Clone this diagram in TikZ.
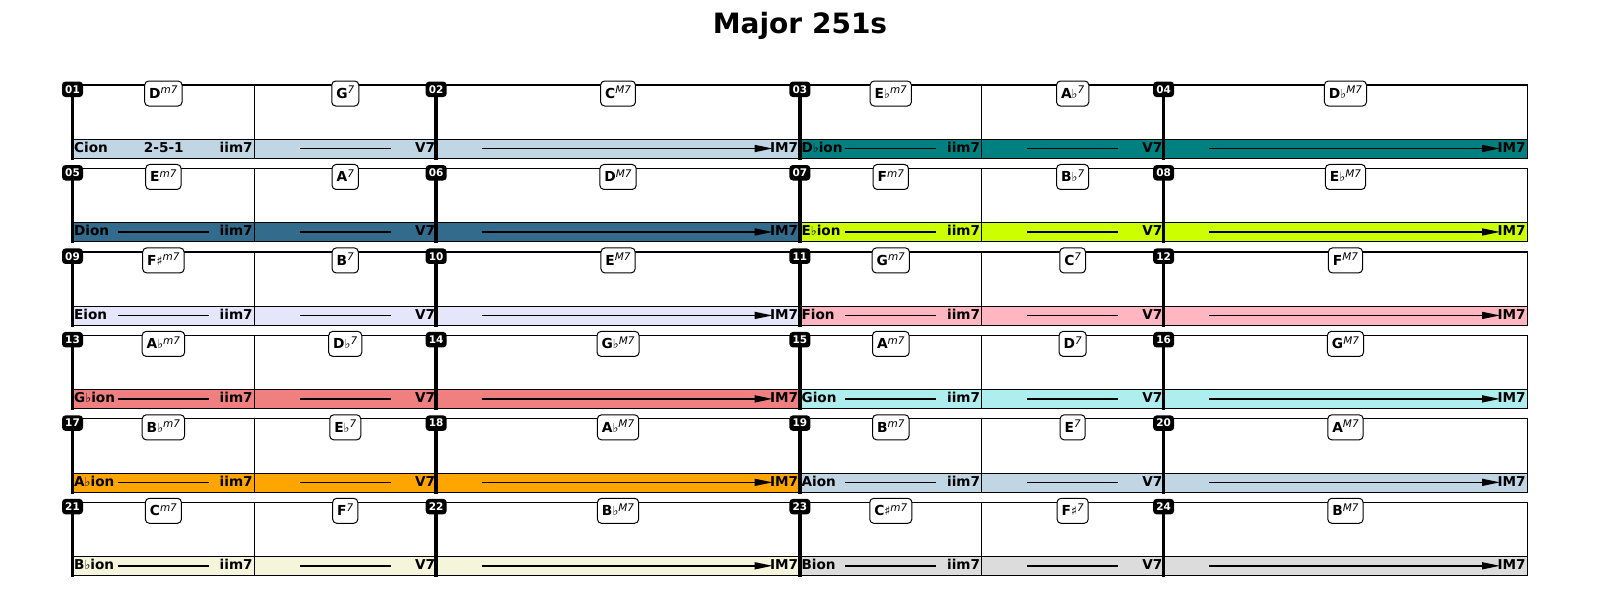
\documentclass[tikz,border=0pt]{standalone}
\usepackage{fontspec}
\setmainfont{DejaVu Sans}
\usetikzlibrary{arrows.meta}
\definecolor{cC}{HTML}{C0D6E4}
\definecolor{cDb}{HTML}{008080}
\definecolor{cD}{HTML}{336B8C}
\definecolor{cEb}{HTML}{CCFF00}
\definecolor{cE}{HTML}{E6E6FA}
\definecolor{cF}{HTML}{FFB6C1}
\definecolor{cGb}{HTML}{F08080}
\definecolor{cG}{HTML}{AFEEEE}
\definecolor{cAb}{HTML}{FFA500}
\definecolor{cA}{HTML}{C0D6E4}
\definecolor{cBb}{HTML}{F5F5DC}
\definecolor{cB}{HTML}{DCDCDC}
\newcommand\fl{{\fontsize{12.5}{12.5}\selectfont\mdseries ♭}}
\newcommand\shp{{\fontsize{12.5}{12.5}\selectfont\mdseries ♯}}
\newcommand\ch[2]{#1{\fontsize{10.5}{10.5}\selectfont\mdseries\itshape\raisebox{4.5pt}{#2}}}
\newif\ifintro
\tikzset{
  frameline/.style={line width=1.2pt},
  mbar/.style={line width=3.5pt},
  bandline/.style={line width=1.5pt},
  badgebox/.style={fill=black, rounded corners=3.5pt, inner sep=0pt, minimum width=21pt, minimum height=15.5pt, text=white, font=\fontsize{10.5}{10.5}\selectfont\bfseries},
  chordbox/.style={draw, fill=white, line width=1pt, rounded corners=4pt, inner sep=0pt, inner xsep=4.5pt, minimum height=25pt, text height=9.8pt, text depth=0pt, font=\fontsize{13.8}{13.8}\selectfont\bfseries},
  bandtext/.style={inner sep=0pt, text height=10pt, text depth=0pt, font=\fontsize{13.6}{13.6}\selectfont\bfseries},
}
\newcommand\keyblock[9]{%
  \pgfmathsetmacro\xa{#1}%
  \pgfmathsetmacro\xb{#1+181.85}%
  \pgfmathsetmacro\xc{#1+363.7}%
  \pgfmathsetmacro\xd{#1+727.4}%
  \pgfmathsetmacro\ya{#2}%
  \pgfmathsetmacro\yb{#2+54.3}%
  \pgfmathsetmacro\ym{#2+63.5}%
  \pgfmathsetmacro\yt{#2+62.2}%
  \pgfmathsetmacro\yc{#2+73.3}%
  \fill[#5] (\xa,\yb) rectangle (\xd,\yc);
  \draw[frameline] (\xa,\ya) rectangle (\xd,\yc);
  \draw[frameline] (\xa,\yb) -- (\xd,\yb);
  \draw[frameline] (\xb,\ya) -- (\xb,\yc);
  \draw[frameline] (\xc,\ya) -- (\xc,\yc);
  \node[bandtext, anchor=west] (key#3) at (\xa+1.5,\yt) {#6};
  \node[bandtext, anchor=east] (ii#3) at (\xb-1.5,\yt) {iim7};
  \node[bandtext, anchor=east] (v#3) at (\xc-1,\yt) {V7};
  \node[bandtext, anchor=east] (im#3) at (\xd-1.5,\yt) {IM7};
  \ifintro
    \node[bandtext] (lbl#3) at (\xa+91.3,\yt) {2-5-1};
  \else
    \coordinate (la#3) at (\xa+45.46,\ym);
    \coordinate (lb#3) at (\xa+136.4,\ym);
    \draw[bandline] (la#3) -- (lb#3);
  \fi
  \coordinate (va#3) at (\xb+45.46,\ym);
  \coordinate (vb#3) at (\xb+136.4,\ym);
  \draw[bandline] (va#3) -- (vb#3);
  \coordinate (aa#3) at (\xc+45.46,\ym);
  \coordinate (ab#3) at (\xc+336.4,\ym);
  \draw[bandline, -{Triangle[length=18pt,width=7pt]}] (aa#3) -- (ab#3);
  \draw[mbar] (\xa,\ya) -- (\xa,\yc+1.5);
  \draw[mbar] (\xc,\ya) -- (\xc,\yc+1.5);
  \node[badgebox] (n#3) at (\xa,\ya+4.3) {#3};
  \node[badgebox] (n#4) at (\xc,\ya+4.3) {#4};
  \node[chordbox] (cii#3) at (\xa+90.9,\ya+8.5) {#7};
  \node[chordbox] (cv#3) at (\xb+90.9,\ya+8.5) {#8};
  \node[chordbox] (ci#3) at (\xc+181.85,\ya+8.5) {#9};
}
\begin{document}
\begin{tikzpicture}[x=1pt,y=-1pt]
\useasboundingbox (0,0) rectangle (1600,600);
\fill[white] (0,0) rectangle (1600,600);
\node[inner sep=0pt, text height=20.4pt, text depth=0pt, font=\fontsize{28}{28}\selectfont\bfseries] (title) at (800,23.7) {Major 251s};
\introtrue
\keyblock{72.5}{85}{01}{02}{cC}{Cion}{\ch{D}{m7}}{\ch{G}{7}}{\ch{C}{M7}}
\introfalse
\keyblock{799.9}{85}{03}{04}{cDb}{D\fl ion}{\ch{E\fl}{m7}}{\ch{A\fl}{7}}{\ch{D\fl}{M7}}
\keyblock{72.5}{168.46}{05}{06}{cD}{Dion}{\ch{E}{m7}}{\ch{A}{7}}{\ch{D}{M7}}
\keyblock{799.9}{168.46}{07}{08}{cEb}{E\fl ion}{\ch{F}{m7}}{\ch{B\fl}{7}}{\ch{E\fl}{M7}}
\keyblock{72.5}{251.92}{09}{10}{cE}{Eion}{\ch{F\shp}{m7}}{\ch{B}{7}}{\ch{E}{M7}}
\keyblock{799.9}{251.92}{11}{12}{cF}{Fion}{\ch{G}{m7}}{\ch{C}{7}}{\ch{F}{M7}}
\keyblock{72.5}{335.38}{13}{14}{cGb}{G\fl ion}{\ch{A\fl}{m7}}{\ch{D\fl}{7}}{\ch{G\fl}{M7}}
\keyblock{799.9}{335.38}{15}{16}{cG}{Gion}{\ch{A}{m7}}{\ch{D}{7}}{\ch{G}{M7}}
\keyblock{72.5}{418.84}{17}{18}{cAb}{A\fl ion}{\ch{B\fl}{m7}}{\ch{E\fl}{7}}{\ch{A\fl}{M7}}
\keyblock{799.9}{418.84}{19}{20}{cA}{Aion}{\ch{B}{m7}}{\ch{E}{7}}{\ch{A}{M7}}
\keyblock{72.5}{502.3}{21}{22}{cBb}{B\fl ion}{\ch{C}{m7}}{\ch{F}{7}}{\ch{B\fl}{M7}}
\keyblock{799.9}{502.3}{23}{24}{cB}{Bion}{\ch{C\shp}{m7}}{\ch{F\shp}{7}}{\ch{B}{M7}}
\end{tikzpicture}
\end{document}
